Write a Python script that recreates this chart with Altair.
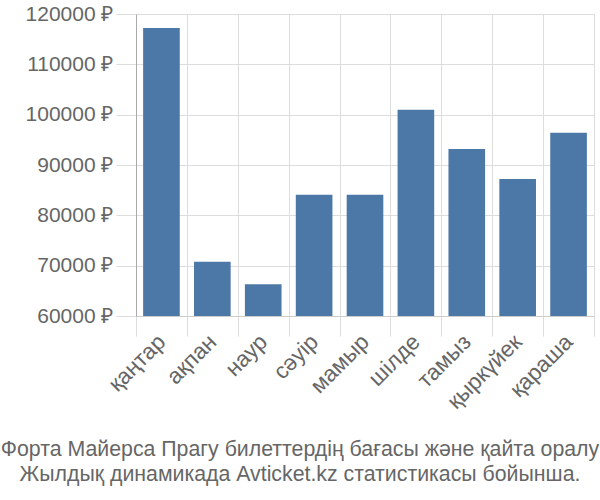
import altair as alt
import pandas as pd

months = ["қаңтар", "ақпан", "наур", "сәуір", "мамыр", "шілде", "тамыз", "қыркүйек", "қараша"]
prices = [117200, 70800, 66300, 84100, 84100, 101000, 93200, 87200, 96400]
y_ticks = [60000, 70000, 80000, 90000, 100000, 110000, 120000]
title_lines = [
    "Форта Майерса Прагу билеттердің бағасы және қайта оралу",
    "Жылдық динамикада Avticket.kz статистикасы бойынша.",
]

df = pd.DataFrame({"month": months, "price": prices})

chart = (
    alt.Chart(df)
    .mark_bar(color="#4c78a8", width=alt.RelativeBandSize(0.72))
    .encode(
        x=alt.X(
            "month:N",
            sort=months,
            scale=alt.Scale(paddingInner=0, paddingOuter=0),
            axis=alt.Axis(
                title=None,
                labelAngle=315,
                labelAlign="right",
                labelBaseline="middle",
                labelFontSize=22.5,
                labelColor="#666666",
                labelFont="Liberation Sans",
                labelPadding=2,
                tickBand="extent",
                tickSize=20,
                tickColor="#dddddd",
                domainColor="#cccccc",
                grid=True,
                gridColor="#dddddd",
            ),
        ),
        y=alt.Y(
            "price:Q",
            scale=alt.Scale(domain=[60000, 120000], zero=False, nice=False, clamp=True),
            axis=alt.Axis(
                title=None,
                values=y_ticks,
                labelExpr="datum.value + ' ₽'",
                labelFontSize=21,
                labelColor="#666666",
                labelFont="Liberation Sans",
                labelPadding=3,
                tickSize=20,
                tickColor="#dddddd",
                domainColor="#aaaaaa",
                gridColor="#dddddd",
            ),
        ),
    )
    .properties(
        width=458,
        height=302,
        autosize=alt.AutoSizeParams(type="none"),
        padding={"left": 136, "top": 14, "right": 6, "bottom": 184},
        title=alt.TitleParams(
            text=title_lines,
            orient="bottom",
            anchor="middle",
            frame="group",
            dx=-65,
            offset=26,
            fontSize=21.3,
            fontWeight="normal",
            color="#666666",
            font="Liberation Sans",
            lineHeight=25,
        ),
    )
    .configure_view(stroke="#dddddd")
)

chart.save("out.html", embed_options={"renderer": "svg", "actions": False})
